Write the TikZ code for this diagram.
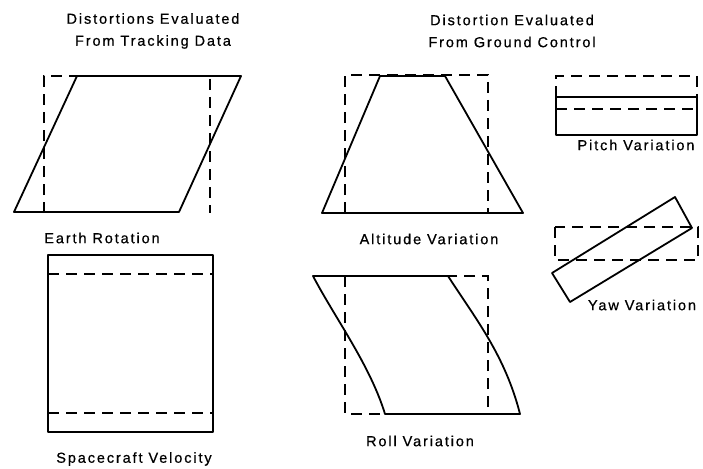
\documentclass[tikz,border=0pt]{standalone}
\usepackage{fontspec}
\setmainfont{Liberation Sans}[LetterSpace=13,FakeBold=0.6]
\begin{document}
\begin{tikzpicture}[x=1pt,y=-1pt,
  solidline/.style={line width=1.8pt,line join=round},
  dashline/.style={line width=1.6pt,dash pattern=on 11pt off 7pt},
  lbl/.style={inner sep=0pt,font=\fontsize{14.5}{22}\selectfont,align=center}]
\useasboundingbox[fill=white] (0,0) rectangle (703,468);
% titles
\node[lbl] (t1) at (153,31) {Distortions Evaluated\\From Tracking Data};
\node[lbl] (t2) at (512,31) {Distortion Evaluated\\From Ground Control};
% Earth rotation
\draw[dashline] (44,213) -- (44,76) -- (210,76) -- (210,213);
\draw[solidline] (14,212) -- (77,76) -- (241,76) -- (179,212) -- cycle;
\node[lbl] (er) at (102,238) {Earth Rotation};
% Spacecraft velocity
\draw[solidline] (48,255) rectangle (213,432);
\draw[dashline] (48,274) -- (213,274);
\draw[dashline] (48,413) -- (213,413);
\node[lbl] (sv) at (134,459) {Spacecraft Velocity};
% Altitude variation
\draw[dashline] (345,213) -- (345,75) -- (488,75) -- (488,213);
\draw[solidline] (322,213) -- (380,76) -- (445,76) -- (523,213) -- cycle;
\node[lbl] (av) at (429,239) {Altitude Variation};
% Roll variation
\draw[dashline] (345,276) -- (345,414) -- (488,414) -- (488,276) -- cycle;
\draw[solidline] (313,276) -- (448,276) .. controls (475,318) and (505,355) .. (520,414)
  -- (385,414) .. controls (370,365) and (335,318) .. cycle;
\node[lbl] (rv) at (420,441) {Roll Variation};
% Pitch variation
\draw[dashline] (556,97) -- (556,76) -- (697,76) -- (697,97);
\draw[solidline] (556,97) rectangle (697,135);
\draw[dashline] (556,109) -- (697,109);
\node[lbl] (pv) at (636,145) {Pitch Variation};
% Yaw variation
\draw[dashline] (555,227) rectangle (698,260);
\draw[solidline] (552,273) -- (570,302) -- (692,228) -- (675,197) -- cycle;
\node[lbl] (yv) at (642,305) {Yaw Variation};
\end{tikzpicture}
\end{document}
